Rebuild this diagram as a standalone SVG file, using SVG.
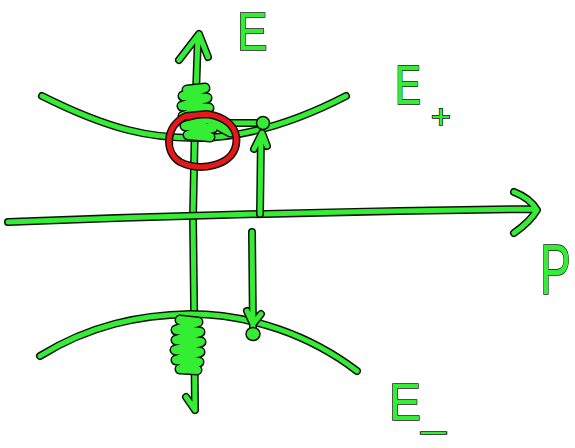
<svg xmlns="http://www.w3.org/2000/svg" width="575" height="448" viewBox="0 0 575 448">
<style>
.o{fill:none;stroke:#111;stroke-width:8;stroke-linecap:round;stroke-linejoin:round}
.g{fill:none;stroke:#33ee33;stroke-width:5;stroke-linecap:round;stroke-linejoin:round}
.r{fill:none;stroke:#e81818;stroke-width:5;stroke-linecap:round;stroke-linejoin:round}
.ot{stroke-width:11}
.gt{stroke-width:8}
.dot{fill:#33ee33;stroke:#111;stroke-width:1.5}
.lbl{font-family:"Liberation Sans",Arial,sans-serif;fill:#33ee33;stroke:#111;stroke-width:1.5;paint-order:stroke fill}
</style>
<defs>
<path id="vax" d="M195,410 L194,300 L193,217 L195,120 L198,36 M186,397 L195,410 M179,60 L199,34 L208,57"/>
<path id="hax" d="M8,222 Q270,212 534,209 M514,192 Q530,198 537,210 Q530,222 514,233"/>
<path id="up" d="M42,96 C110,130 150,138 195,138 C240,138 290,125 346,96"/>
<path id="lo" d="M40,356 C90,325 140,315 190,314 C250,314 310,335 357,371"/>
<path id="ar1" d="M260,214 L261,135 M254,149 L262,133 L267,146 M212,123 L262,123"/>
<path id="ar2" d="M252,232 L253,330 M247,311 L253,324 L261,314"/>
<path id="sc1" d="M187,90 L205,88 L183,96 L207,98 L182,106 L209,108 L183,116 L211,118 L185,126 L213,128 L188,135 L210,137 M212,122 L230,132"/>
<path id="sc2" d="M180,320 L198,322 L176,330 L200,332 L176,340 L201,342 L175,350 L200,352 L176,360 L199,362 L180,369 L197,370"/>
<path id="ring" d="M188,117 C215,108 240,123 236,145 C232,166 200,172 180,162 C164,152 165,126 186,116 L207,114"/>
</defs>
<g id="axes">
<use href="#vax" class="o"/><use href="#vax" class="g"/>
<use href="#hax" class="o"/><use href="#hax" class="g"/>
</g>
<g id="band-upper">
<use href="#up" class="o"/><use href="#up" class="g"/>
</g>
<g id="band-lower">
<use href="#lo" class="o"/><use href="#lo" class="g"/>
</g>
<g id="connectors">
<use href="#ar1" class="o"/><use href="#ar1" class="g"/>
<use href="#ar2" class="o"/><use href="#ar2" class="g"/>
<circle class="dot" cx="263" cy="123" r="6.5"/>
<ellipse class="dot" cx="253" cy="334" rx="7" ry="6.5"/>
</g>
<g id="scribbles">
<use href="#sc1" class="o ot"/><use href="#sc1" class="g gt"/>
<use href="#sc2" class="o ot"/><use href="#sc2" class="g gt"/>
</g>
<g id="highlight">
<use href="#ring" class="o"/><use href="#ring" class="r"/>
</g>
<g id="labels">
<text class="lbl" transform="translate(237,50) scale(0.85,1)" font-size="54">E</text>
<text class="lbl" x="395" y="104" font-size="56" textLength="26" lengthAdjust="spacingAndGlyphs">E</text>
<text class="lbl" x="431" y="128" font-size="34">+</text>
<text class="lbl" transform="translate(540,294) scale(0.66,1)" font-size="70">P</text>
<text class="lbl" x="389" y="420" font-size="52" textLength="32" lengthAdjust="spacingAndGlyphs">E</text>
<text class="lbl" x="421" y="441" font-size="30" textLength="25" lengthAdjust="spacingAndGlyphs">–</text>
</g>
</svg>
